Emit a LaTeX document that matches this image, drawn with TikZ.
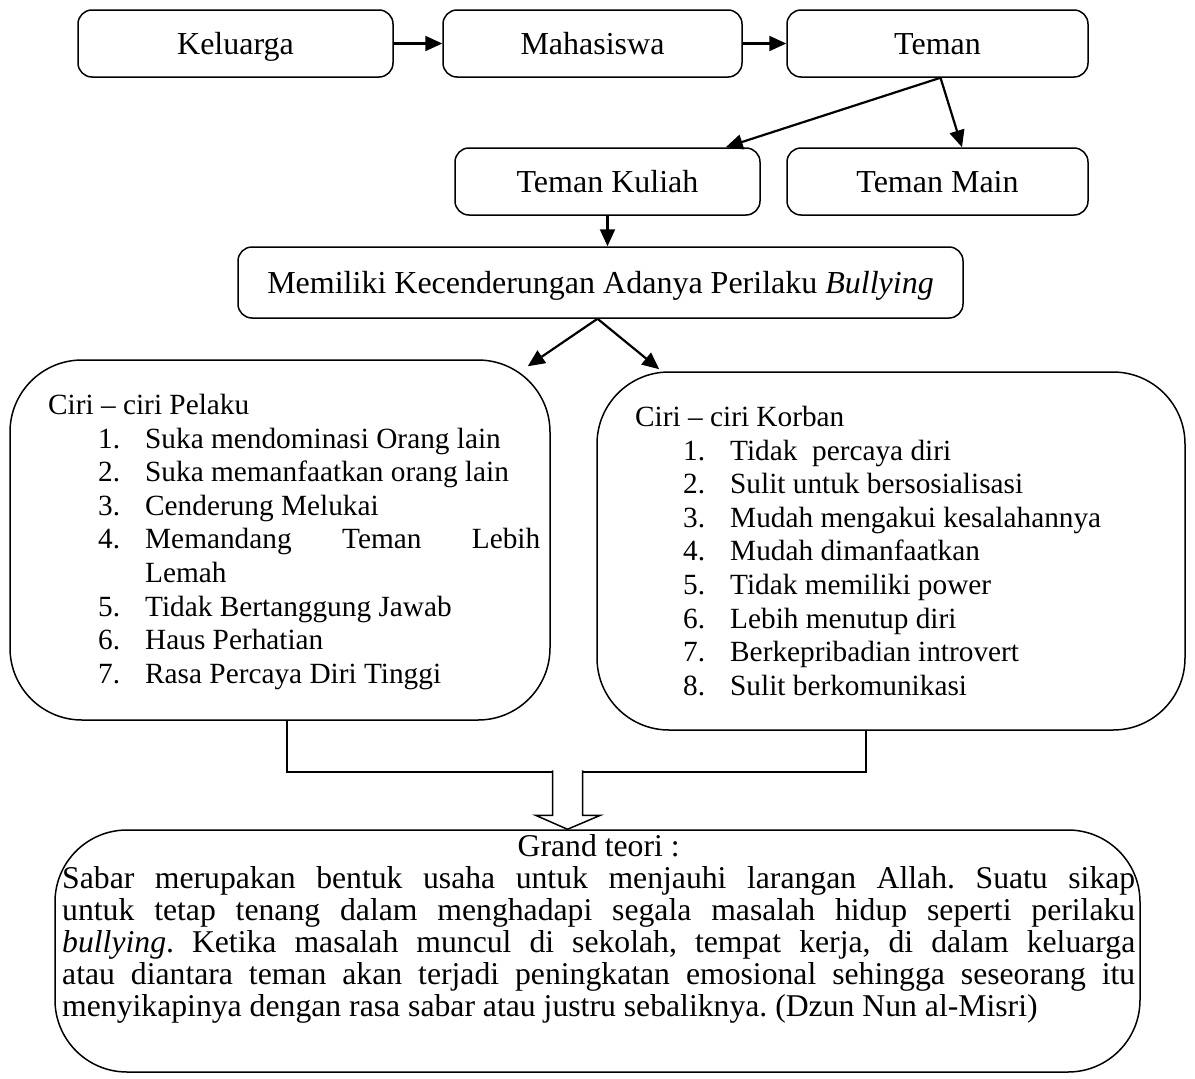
\documentclass[tikz,border=0pt]{standalone}
\usepackage{fontspec}
\setmainfont{Liberation Serif}
\usetikzlibrary{arrows.meta, positioning, calc}
\frenchspacing

%% one list row: number, then text with hanging indent
\newcommand{\listrow}[2]{\par\hangindent=47pt\hangafter=1\makebox[47pt][l]{#1}#2}

\tikzset{
  flowbox/.style={draw, line width=1.5pt, rounded corners=14pt,
                  align=center, inner sep=0pt, text height=28pt, text depth=7pt},
  roundbox/.style={draw, line width=1.5pt, rounded corners=72pt, inner sep=0pt},
  listtext/.style={anchor=north west, inner sep=0pt, text width=#1, align=justify,
                   font=\fontsize{29.3}{33.6}\selectfont},
  link/.style={line width=2.2pt, -{Triangle[length=17pt,width=15pt]}},
}

\begin{document}
\begin{tikzpicture}[x=1pt, y=-1pt, font=\fontsize{32}{32}\selectfont]
  \useasboundingbox (0,0) rectangle (1195,1079);

  %% --- top row ---
  \node[flowbox, minimum width=315pt, minimum height=67pt] (keluarga) at (235.5,43.5) {Keluarga};
  \node[flowbox, minimum width=299pt, minimum height=67pt] (mahasiswa) at (592.5,43.5) {Mahasiswa};
  \node[flowbox, minimum width=301pt, minimum height=67pt] (teman) at (937.5,43.5) {Teman};

  %% --- second row ---
  \node[flowbox, minimum width=305pt, minimum height=67pt] (kuliah) at (607.5,181.5) {Teman Kuliah};
  \node[flowbox, minimum width=301pt, minimum height=67pt] (main) at (937.5,181.5) {Teman Main};

  %% --- middle box ---
  \node[flowbox, minimum width=725pt, minimum height=71pt] (memiliki) at (600.5,282.5)
    {Memiliki Kecenderungan Adanya Perilaku \textit{Bullying}};

  %% --- the two lists ---
  \node[roundbox, minimum width=540pt, minimum height=360pt] (pelaku) at (280,540) {};
  \node[roundbox, minimum width=588pt, minimum height=358pt] (korban) at (891,551) {};

  \node[listtext=492pt] (pelakutext) at (48,394) {%
    Ciri -- ciri Pelaku\par\leftskip=50pt
    \listrow{1.}{Suka mendominasi Orang lain}
    \listrow{2.}{Suka memanfaatkan orang lain}
    \listrow{3.}{Cenderung Melukai}
    \listrow{4.}{Memandang Teman Lebih\linebreak Lemah}
    \listrow{5.}{Tidak Bertanggung Jawab}
    \listrow{6.}{Haus Perhatian}
    \listrow{7.}{Rasa Percaya Diri Tinggi}\par};

  \node[listtext=520pt] (korbantext) at (635,406) {%
    Ciri -- ciri Korban\par\leftskip=48pt
    \listrow{1.}{Tidak \ percaya diri}
    \listrow{2.}{Sulit untuk bersosialisasi}
    \listrow{3.}{Mudah mengakui kesalahannya}
    \listrow{4.}{Mudah dimanfaatkan}
    \listrow{5.}{Tidak memiliki power}
    \listrow{6.}{Lebih menutup diri}
    \listrow{7.}{Berkepribadian introvert}
    \listrow{8.}{Sulit berkomunikasi}\par};

  %% --- bottom box ---
  \node[roundbox, minimum width=1085pt, minimum height=242pt] (grand) at (597.5,951) {};
  \node[listtext=1073pt, font=\fontsize{31.7}{32}\selectfont] (grandtext) at (62,834) {%
    {\centering Grand teori :\par}
    Sabar merupakan bentuk usaha untuk menjauhi larangan Allah. Suatu sikap\linebreak
    untuk tetap tenang dalam menghadapi segala masalah hidup seperti perilaku\linebreak
    \textit{bullying}. Ketika masalah muncul di sekolah, tempat kerja, di dalam keluarga\linebreak
    atau diantara teman akan terjadi peningkatan emosional sehingga seseorang itu\linebreak
    menyikapinya dengan rasa sabar atau justru sebaliknya. (Dzun Nun al-Misri)\par};

  %% --- arrows ---
  \draw[link] (keluarga) -- (mahasiswa);
  \draw[link] (mahasiswa) -- (teman);
  \draw[link] ($(teman.south)+(3,0)$) -- ($(kuliah.north east)+(-35,0)$);
  \draw[link] ($(teman.south)+(3,0)$) -- ($(main.north)+(24.5,0)$);
  \draw[link] (kuliah.south) -- (kuliah.south |- memiliki.north);
  \draw[link] ($(memiliki.south)+(-3,0)$) -- ($(pelaku.north east)+(-23,7)$);
  \draw[link] ($(memiliki.south)+(-3,0)$) -- ($(korban.north west)+(63,-2)$);

  %% bracket joining both lists
  \draw[line width=1.5pt] ($(pelaku.south)+(7,0)$) -- ++(0,51) -| ($(korban.south)+(-25,0)$);

  %% hollow arrow into the bottom box
  \coordinate (tip) at ($(grand.north)+(-30,0)$);
  \draw[line width=1.5pt, fill=white] ($(tip)+(-15,-59)$) -- ($(tip)+(-15,-14)$)
    -- ($(tip)+(-32,-14)$) -- (tip) -- ($(tip)+(33,-14)$)
    -- ($(tip)+(15,-14)$) -- ($(tip)+(15,-59)$);
\end{tikzpicture}
\end{document}
